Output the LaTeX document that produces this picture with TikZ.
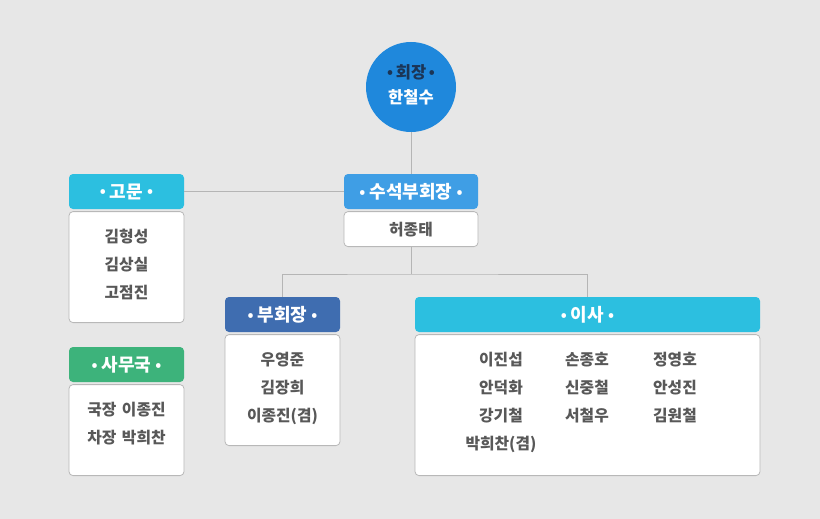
\documentclass[tikz,border=0pt]{standalone}
\usepackage{fontspec}
\setmainfont{Noto Sans CJK KR}
\usetikzlibrary{positioning}

\definecolor{bgcol}{HTML}{E7E7E7}
\definecolor{chaircol}{HTML}{1F88DC}
\definecolor{chairtext}{HTML}{1B3556}
\definecolor{svpcol}{HTML}{3F9EE5}
\definecolor{cyancol}{HTML}{2CBFE0}
\definecolor{vpcol}{HTML}{3F6DB0}
\definecolor{greencol}{HTML}{3DB37B}
\definecolor{linecol}{HTML}{B5B5B5}
\definecolor{boxline}{HTML}{B8B8B8}
\definecolor{nametext}{HTML}{585858}

\newcommand{\bul}{{\fontsize{15}{15}\selectfont\raisebox{0.08em}{•}}}

\tikzset{
  headbox/.style={rounded corners=4pt, minimum height=35pt, inner sep=0pt,
    text=white, font=\bfseries\fontsize{18}{20}\selectfont},
  bodybox/.style={draw=boxline, line width=0.8pt, fill=white, rounded corners=4pt,
    inner sep=0pt},
  namelist/.style={text=nametext, align=center, inner sep=0pt,
    font=\bfseries\fontsize{15.8}{28}\selectfont},
  link/.style={draw=linecol, line width=0.8pt}
}

\begin{document}
\begin{tikzpicture}[x=1pt,y=-1pt]
        \fill[bgcol] (0,0) rectangle (820,519);
        \useasboundingbox (0,0) rectangle (820,519);

        % chairman
        \node[circle, fill=chaircol, minimum size=90pt, inner sep=0pt] (chair) at (411,87) {};
        \node[align=center, inner sep=0pt, font=\bfseries\fontsize{16.5}{25}\selectfont] (chairtxt) at (411,85)
          {\textcolor{chairtext}{\bul\,회장\,\bul}\\\textcolor{white}{한철수}};

        % senior vice chairman
        \node[headbox, fill=svpcol, minimum width=134pt] (svphead) at (411,191.5) {\bul\ 수석부회장 \bul};
        \node[bodybox, minimum width=134pt, minimum height=35pt, below=2pt of svphead,
          text=nametext, font=\bfseries\fontsize{15.8}{18}\selectfont] (svpbody) {허종태};

        % advisers
        \node[headbox, fill=cyancol, minimum width=115pt] (advhead) at (126.5,191.5) {\bul\ 고문 \bul};
        \node[bodybox, minimum width=115pt, minimum height=111pt, below=2pt of advhead] (advbody) {};
        \node[namelist] (advnames) at (126.5,264) {김형성\\김상실\\고점진};

        % secretariat
        \node[headbox, fill=greencol, minimum width=115pt] (sechead) at (126.5,364.5) {\bul\ 사무국 \bul};
        \node[bodybox, minimum width=115pt, minimum height=91pt, below=2pt of sechead] (secbody) {};
        \node[namelist] (secnames) at (126.5,424) {국장\hspace{0.35em}이종진\\차장\hspace{0.35em}박희찬};

        % vice chairmen
        \node[headbox, fill=vpcol, minimum width=115pt] (vphead) at (282.5,314.5) {\bul\ 부회장 \bul};
        \node[bodybox, minimum width=115pt, minimum height=111pt, below=2pt of vphead] (vpbody) {};
        \node[namelist] (vpnames) at (282.5,388) {우영준\\김장희\\이종진(겸)};

        % directors
        \node[headbox, fill=cyancol, minimum width=345pt] (dirhead) at (587.5,314.5) {\bul\ 이사 \bul};
        \node[bodybox, minimum width=345pt, minimum height=141pt, below=2pt of dirhead] (dirbody) {};
        \node[namelist] (dircola) at (501,402) {이진섭\\안덕화\\강기철\\박희찬(겸)};
        \node[namelist] (dircolb) at (587,388) {손종호\\신중철\\서철우};
        \node[namelist] (dircolc) at (675,388) {정영호\\안성진\\김원철};

        % connectors
        \coordinate (split) at (411,274);
        \draw[link] (chair.south) -- (svphead.north);
        \draw[link] (advhead.east) -- (svphead.west);
        \draw[link] (svpbody.south) -- (split);
        \draw[link] (vphead.north) |- (split) -| (dirhead.north);
      \end{tikzpicture}
\end{document}
